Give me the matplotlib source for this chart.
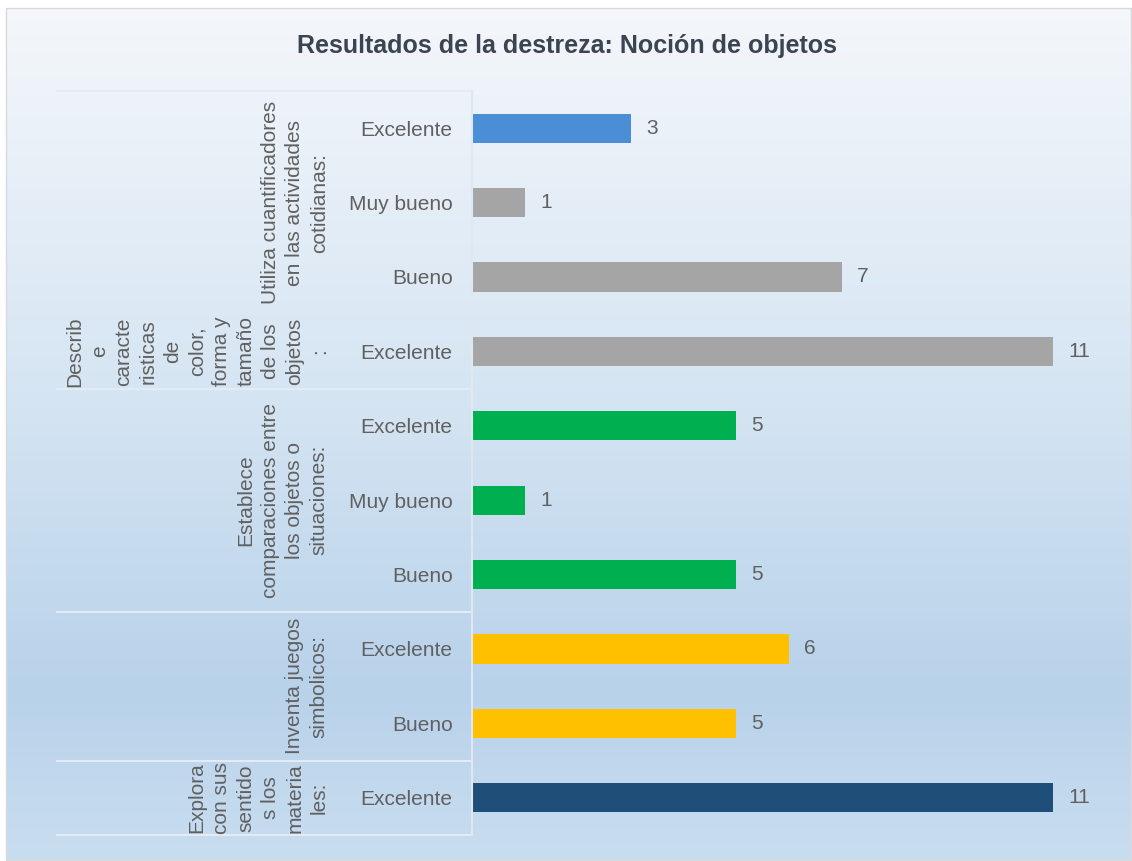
import numpy as np
import matplotlib.pyplot as plt
from matplotlib import transforms
from matplotlib.colors import LinearSegmentedColormap
from matplotlib.patches import Rectangle

plt.rcParams['font.family'] = ['Liberation Sans', 'DejaVu Sans']

# categories from bottom to top
levels = ["Excelente", "Bueno", "Excelente", "Bueno", "Muy bueno", "Excelente",
          "Excelente", "Bueno", "Muy bueno", "Excelente"]
values = [11, 5, 6, 5, 1, 5, 11, 7, 1, 3]

group_labels = [
    "Explora\ncon sus\nsentido\ns los\nmateria\nles:",
    "Inventa juegos\nsimbolicos:",
    "Establece\ncomparaciones entre\nlos objetos o\nsituaciones:",
    "Describ\ne\ncaracte\nristicas\nde\ncolor,\nforma y\ntamaño\nde los\nobjetos\n:",
    "Utiliza cuantificadores\nen las actividades\ncotidianas:",
]
group_sizes = [1, 2, 3, 1, 3]
block_sizes = [1, 2, 3, 4]

title = "Resultados de la destreza: Noción de objetos"

colors = ['#1f4e79', '#ffc000', '#ffc000', '#00b050', '#00b050', '#00b050',
          '#a5a5a5', '#a5a5a5', '#a5a5a5', '#4a8fd6']
W, H = 1132, 861

fig = plt.figure(figsize=(W / 100, H / 100), dpi=100)

# background with vertical gradient
bg = fig.add_axes([0, 0, 1, 1], zorder=0)
bg.set_xlim(0, W)
bg.set_ylim(H, 0)
bg.axis('off')
cmap = LinearSegmentedColormap.from_list('bg', [(0, '#f4f7fb'), (0.45, '#d6e5f3'),
                                                (0.8, '#b8d2ea'), (1, '#c9ddf0')])
grad = np.linspace(0, 1, 256).reshape(-1, 1)
bg.imshow(grad, cmap=cmap, aspect='auto', extent=[6, W, H, 8])
bg.add_patch(Rectangle((6, 8), W - 7, H - 9, fill=False, edgecolor='#d9d9d9', lw=1))

ax = fig.add_axes([472 / W, 1 - 835 / H, 634 / W, 744 / H], zorder=1)
ax.patch.set_alpha(0)
y = np.arange(len(values))
ax.barh(y, values, height=0.39, color=colors)
for yi, v in zip(y, values):
    ax.annotate(str(v), (v, yi), xytext=(11, 0), textcoords='offset points',
                va='center', ha='left', fontsize=15, color='#606060')

ax.set_xlim(0, 12)
ax.set_ylim(-0.5, len(values) - 0.5)
ax.set_xticks([])
ax.set_yticks(y)
ax.set_yticklabels(levels, fontsize=15, color='#606060')
ax.tick_params(axis='y', length=0, pad=14)
for s in ['top', 'right', 'bottom']:
    ax.spines[s].set_visible(False)
ax.spines['left'].set_color('#dfe7f0')
ax.spines['left'].set_linewidth(1.5)

trans = transforms.blended_transform_factory(ax.transAxes, ax.transData)

# group labels
start = 0
for lab, n in zip(group_labels, group_sizes):
    yc = start + (n - 1) / 2
    ax.text(-0.226, yc, lab, transform=trans, rotation=90, ha='right', va='center',
            multialignment='center', fontsize=15, color='#606060', linespacing=1.36)
    start += n

# divider lines
bounds = np.concatenate([[0], np.cumsum(block_sizes)]) - 0.5
x0 = (57 - 472) / 634
for b in bounds:
    ax.plot([x0, 0], [b, b], transform=trans, color='#e3ebf4', lw=1.5, clip_on=False)

fig.text(0.501, 1 - 46 / H, title, ha='center', va='center', fontsize=18,
         fontweight='bold', color='#3c4452')

fig.savefig('out.png', dpi=100)
